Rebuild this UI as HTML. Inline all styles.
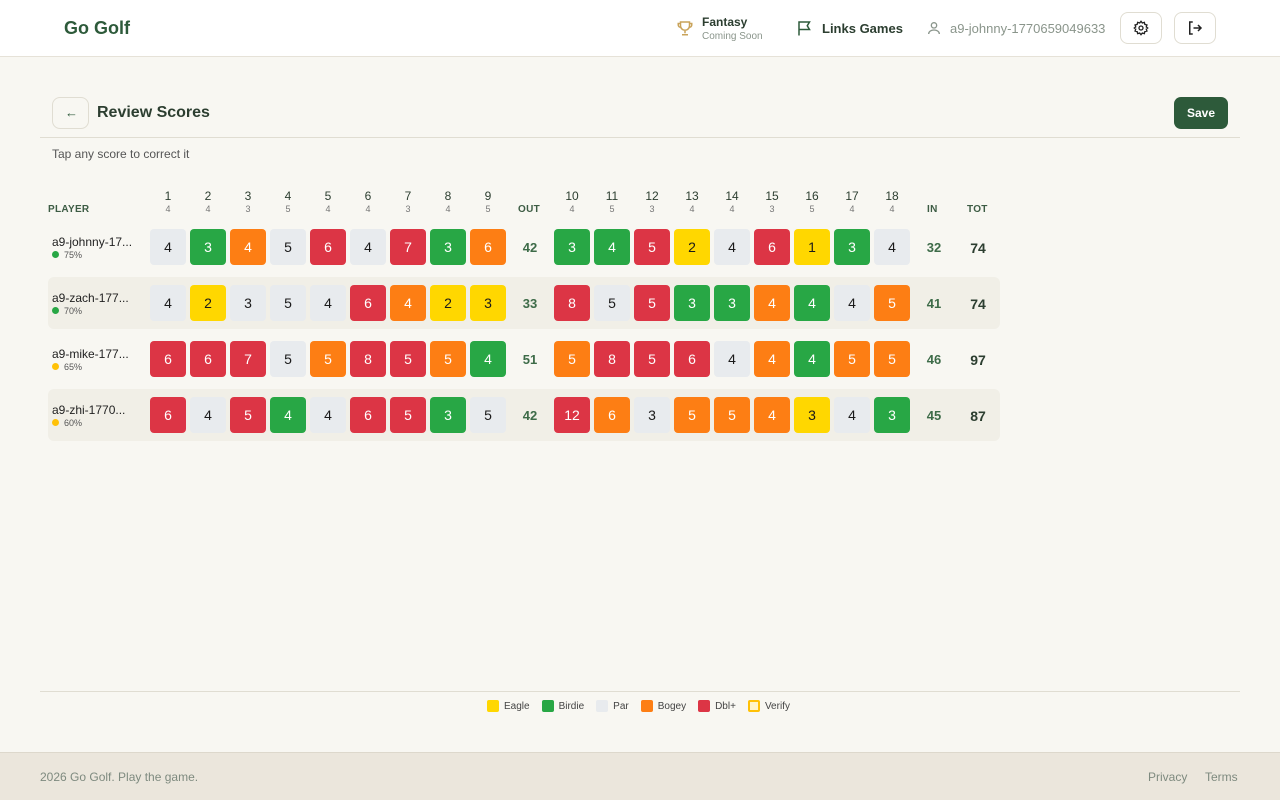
<!DOCTYPE html>
<html><head><meta charset="utf-8"><style>
*{box-sizing:border-box;margin:0;padding:0}
body{width:1280px;height:800px;background:#f8f7f2;font-family:"Liberation Sans",sans-serif;position:relative;overflow:hidden;color:#2c3e30}
.a{position:absolute}
.hdr{left:0;top:0;width:1280px;height:57px;background:#fff;border-bottom:1px solid #e6e2d8}
.btn{border:1px solid #e0ddd2;border-radius:8px;background:#fff}
.c{position:absolute;width:36px;height:36px;border-radius:4px;font-size:14px;display:flex;align-items:center;justify-content:center;font-weight:500}
.g{background:#e8ebee;color:#1a1a1a}.G{background:#28a745;color:#fff}.O{background:#fd7e14;color:#fff}.R{background:#dc3545;color:#fff}.Y{background:#ffd700;color:#1a1a1a}
.hn{position:absolute;width:40px;text-align:center;font-size:12px;color:#2c3e30}
.hp{position:absolute;width:40px;text-align:center;font-size:9px;color:#777}
.lab{position:absolute;font-size:10px;font-weight:bold;color:#3d5c44;letter-spacing:.3px}
.sum{position:absolute;width:40px;text-align:center;font-size:13px;font-weight:bold;color:#3d6b48}
.tot{position:absolute;width:40px;text-align:center;font-size:14px;font-weight:bold;color:#2c3e30}
.nm{position:absolute;left:52px;font-size:12px;color:#222}
.pc{position:absolute;left:52px;font-size:9px;color:#555}
.pc i{display:inline-block;width:7px;height:7px;border-radius:50%;margin-right:5px;vertical-align:-0px}
.lg{display:inline-flex;align-items:center;font-size:10px;color:#444;margin-right:12px}
.lg i{width:12px;height:12px;border-radius:2px;margin-right:5px;display:inline-block}
</style></head><body>
<div class="a hdr"></div>
<div class="a" style="left:64px;top:18px;font-size:18px;font-weight:bold;color:#2d5a3a">Go Golf</div>
<svg class="a" style="left:676px;top:19px" width="18" height="18" viewBox="0 0 24 24" fill="none" stroke="#c9a35a" stroke-width="2"><path d="M6 4h12v5a6 6 0 0 1-12 0z M6 6H3v2a3 3 0 0 0 3 3 M18 6h3v2a3 3 0 0 1-3 3 M12 15v4 M8 21h8"/></svg>
<div class="a" style="left:702px;top:15px;font-size:12px;font-weight:bold;color:#2c3e30">Fantasy</div>
<div class="a" style="left:702px;top:31px;font-size:10px;color:#8a958b">Coming Soon</div>
<svg class="a" style="left:796px;top:19px" width="18" height="18" viewBox="0 0 24 24" fill="none" stroke="#2d5a3a" stroke-width="2"><path d="M4 22V3 M4 4h14l-3 5 3 5H4"/></svg>
<div class="a" style="left:822px;top:21px;font-size:13px;font-weight:bold;color:#2c3e30">Links Games</div>
<svg class="a" style="left:926px;top:20px" width="16" height="16" viewBox="0 0 24 24" fill="none" stroke="#8a958b" stroke-width="2"><circle cx="12" cy="8" r="4"/><path d="M4 21c0-4 4-6 8-6s8 2 8 6"/></svg>
<div class="a" style="left:950px;top:21px;font-size:13px;color:#8a958b">a9-johnny-1770659049633</div>
<div class="a btn" style="left:1120px;top:12px;width:42px;height:32px"></div>
<svg class="a" style="left:1133px;top:20px" width="16" height="16" viewBox="0 0 24 24" fill="none" stroke="#222" stroke-width="2"><circle cx="12" cy="12" r="3"/><path d="M12 2l2 2.5 3-1 .8 3.1 3.1.8-1 3L22 12l-2.1 1.6 1 3-3.1.8-.8 3.1-3-1L12 22l-2-2.5-3 1-.8-3.1-3.1-.8 1-3L2 12l2.1-1.6-1-3 3.1-.8.8-3.1 3 1z"/></svg>
<div class="a btn" style="left:1174px;top:12px;width:42px;height:32px"></div>
<svg class="a" style="left:1186px;top:19px" width="18" height="18" viewBox="0 0 24 24" fill="none" stroke="#222" stroke-width="2"><path d="M9 4H5v16h4 M10 12h10 M16 8l4 4-4 4"/></svg>

<div class="a btn" style="left:52px;top:97px;width:37px;height:32px;background:#f8f7f2"></div>
<div class="a" style="left:65px;top:105px;font-size:13px;color:#2d5a3a">←</div>
<div class="a" style="left:97px;top:104px;font-size:16px;font-weight:bold;color:#2c3e30">Review Scores</div>
<div class="a" style="left:1174px;top:97px;width:54px;height:32px;background:#2d5a3a;border-radius:7px;color:#fff;font-size:12px;font-weight:bold;display:flex;align-items:center;justify-content:center">Save</div>
<div class="a" style="left:40px;top:137px;width:1200px;height:1px;background:#e0ddd2"></div>
<div class="a" style="left:52px;top:147px;font-size:12px;color:#555">Tap any score to correct it</div>

<div class="a" style="left:48px;top:277px;width:952px;height:52px;background:#f1efe7;border-radius:6px"></div>
<div class="a" style="left:48px;top:389px;width:952px;height:52px;background:#f1efe7;border-radius:6px"></div>

<div class="lab" style="left:48px;top:204px">PLAYER</div>
<div id="grid"></div>

<div class="a" style="left:40px;top:691px;width:1200px;height:1px;background:#e0ddd2"></div>
<div class="a" style="left:487px;top:700px;display:flex">
<span class="lg"><i style="background:#ffd700"></i>Eagle</span>
<span class="lg"><i style="background:#28a745"></i>Birdie</span>
<span class="lg"><i style="background:#e8ebee"></i>Par</span>
<span class="lg"><i style="background:#fd7e14"></i>Bogey</span>
<span class="lg"><i style="background:#dc3545"></i>Dbl+</span>
<span class="lg"><i style="background:#fff4c8;border:2px solid #ffc107"></i>Verify</span>
</div>

<div class="a" style="left:0;top:752px;width:1280px;height:48px;background:#ebe6dc;border-top:1px solid #ddd8cc"></div>
<div class="a" style="left:40px;top:770px;font-size:12px;color:#7e8a7f">2026 Go Golf. Play the game.</div>
<div class="a" style="left:1148px;top:770px;font-size:12px;color:#7e8a7f">Privacy</div>
<div class="a" style="left:1205px;top:770px;font-size:12px;color:#7e8a7f">Terms</div>

<script>
var pars=[4,4,3,5,4,4,3,4,5,4,5,3,4,4,3,5,4,4];
var rows=[
["a9-johnny-17...","75%","#28a745","4g 3G 4O 5g 6R 4g 7R 3G 6O","42","3G 4G 5R 2Y 4g 6R 1Y 3G 4g","32","74"],
["a9-zach-177...","70%","#28a745","4g 2Y 3g 5g 4g 6R 4O 2Y 3Y","33","8R 5g 5R 3G 3G 4O 4G 4g 5O","41","74"],
["a9-mike-177...","65%","#ffc107","6R 6R 7R 5g 5O 8R 5R 5O 4G","51","5O 8R 5R 6R 4g 4O 4G 5O 5O","46","97"],
["a9-zhi-1770...","60%","#ffc107","6R 4g 5R 4G 4g 6R 5R 3G 5g","42","12R 6O 3g 5O 5O 4O 3Y 4g 3G","45","87"]];
var h="";
function cx(i){return i<9?168+40*i:572+40*(i-9);}
for(var i=0;i<18;i++){h+='<div class="hn" style="left:'+(cx(i)-20)+'px;top:189px">'+(i+1)+'</div><div class="hp" style="left:'+(cx(i)-20)+'px;top:204px">'+pars[i]+'</div>';}
h+='<div class="lab" style="left:518px;top:204px">OUT</div><div class="lab" style="left:927px;top:204px">IN</div><div class="lab" style="left:967px;top:204px">TOT</div>';
rows.forEach(function(r,k){var y=229+56*k;
h+='<div class="nm" style="top:'+(y+6)+'px">'+r[0]+'</div><div class="pc" style="top:'+(y+21)+'px"><i style="background:'+r[2]+'"></i>'+r[1]+'</div>';
var s=(r[3]+" "+r[5]).split(" ");
s.forEach(function(v,i){var c=v.slice(-1),n=v.slice(0,-1);h+='<div class="c '+c+'" style="left:'+(cx(i)-18)+'px;top:'+y+'px">'+n+'</div>';});
h+='<div class="sum" style="left:510px;top:'+(y+11)+'px">'+r[4]+'</div><div class="sum" style="left:914px;top:'+(y+11)+'px">'+r[6]+'</div><div class="tot" style="left:958px;top:'+(y+11)+'px">'+r[7]+'</div>';
});
document.getElementById("grid").innerHTML=h;
</script>
</body></html>
